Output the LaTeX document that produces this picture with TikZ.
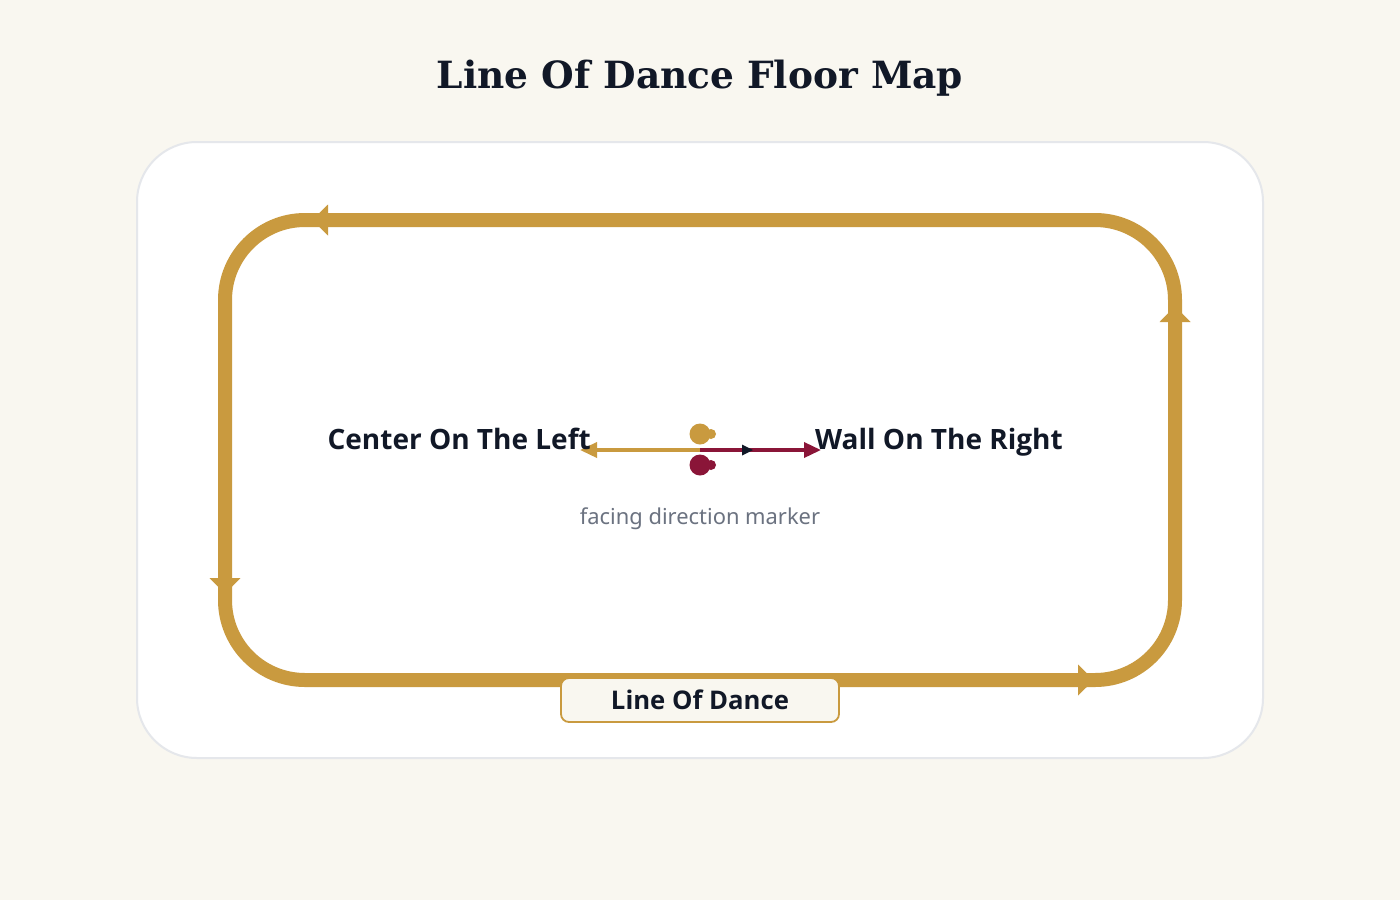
\documentclass[tikz,border=0pt]{standalone}
\usepackage{fontspec}
\setmainfont{DejaVu Serif}
\newfontfamily\labelfont{Noto Sans}
\newfontfamily\headfont{Open Sans}
\usepackage{tikz}
\usetikzlibrary{arrows.meta}
\definecolor{bgcream}{HTML}{F9F7F0}
\definecolor{panelgray}{HTML}{E5E7EB}
\definecolor{gold}{HTML}{C99A3F}
\definecolor{crimson}{HTML}{8A1538}
\definecolor{ink}{HTML}{111827}
\definecolor{muted}{HTML}{6B7280}
\tikzset{
    track/.style={draw=gold, line width=14pt},
    trackhead/.style={track, -{Triangle[length=16pt,width=30pt]}},
    facing/.style={line width=3.5pt, -{Triangle[length=17pt,width=15pt]}},
    sidelabel/.style={font=\headfont\bfseries\fontsize{28}{32}\selectfont, text=ink, inner sep=0pt},
}
\newcommand{\dancerdot}[2]{
    \fill[#2] (#1) circle[radius=10.5pt];
    \fill[#2] (#1) ++(11,0) circle[radius=5pt];
}

\begin{document}
\begin{tikzpicture}[x=1pt, y=-1pt]
        \useasboundingbox[fill=bgcream] (0,0) rectangle (1400,900);
        % title
        \node[anchor=base, font=\bfseries\fontsize{37.5}{44}\selectfont, text=ink] (title) at (700,88) {Line Of Dance Floor Map};
        % floor panel
        \draw[fill=white, draw=panelgray, line width=2pt, rounded corners=60pt] (137,142) rectangle (1263,758);
        % track
        \coordinate (nw) at (225,220);
        \coordinate (se) at (1175,680);
        \draw[track, rounded corners=80pt] (nw) rectangle (se);
        \coordinate (topa) at (340,220);
        \coordinate (topb) at (312,220);
        \coordinate (rgta) at (1175,335);
        \coordinate (rgtb) at (1175,306);
        \coordinate (bota) at (1060,680);
        \coordinate (botb) at (1094,680);
        \coordinate (lfta) at (225,565);
        \coordinate (lftb) at (225,594);
        \draw[trackhead] (topa) -- (topb);
        \draw[trackhead] (rgta) -- (rgtb);
        \draw[trackhead] (bota) -- (botb);
        \draw[trackhead] (lfta) -- (lftb);
        % facing direction marker
        \coordinate (mid) at (700,450);
        \coordinate (cen) at (580,450);
        \coordinate (wal) at (821,450);
        \coordinate (fwd) at (753,450);
        \draw[facing, draw=gold, fill=gold] (mid) -- (cen);
        \draw[facing, draw=crimson, fill=crimson] (mid) -- (wal);
        \draw[line width=0pt, -{Triangle[length=11pt,width=11pt]}, ink] (742,450) -- (fwd);
        \coordinate (leader) at (700,434);
        \coordinate (follower) at (700,465);
        \dancerdot{leader}{gold}
        \dancerdot{follower}{crimson}
        \node[sidelabel, anchor=base east] (center) at (591,449) {Center On The Left};
        \node[sidelabel, anchor=base west] (wall) at (815,449) {Wall On The Right};
        \node[anchor=base, font=\labelfont\fontsize{21.9}{26}\selectfont, text=muted] (hint) at (700,524) {facing direction marker};
        % line of dance tag
        \node[draw=gold, fill=bgcream, line width=1.8pt, rounded corners=8pt, minimum width=278pt, minimum height=44pt, inner sep=0pt,
              font=\headfont\bfseries\fontsize{25.7}{30}\selectfont, text=ink] (lod) at (700,700) {Line Of Dance};
\end{tikzpicture}
\end{document}
